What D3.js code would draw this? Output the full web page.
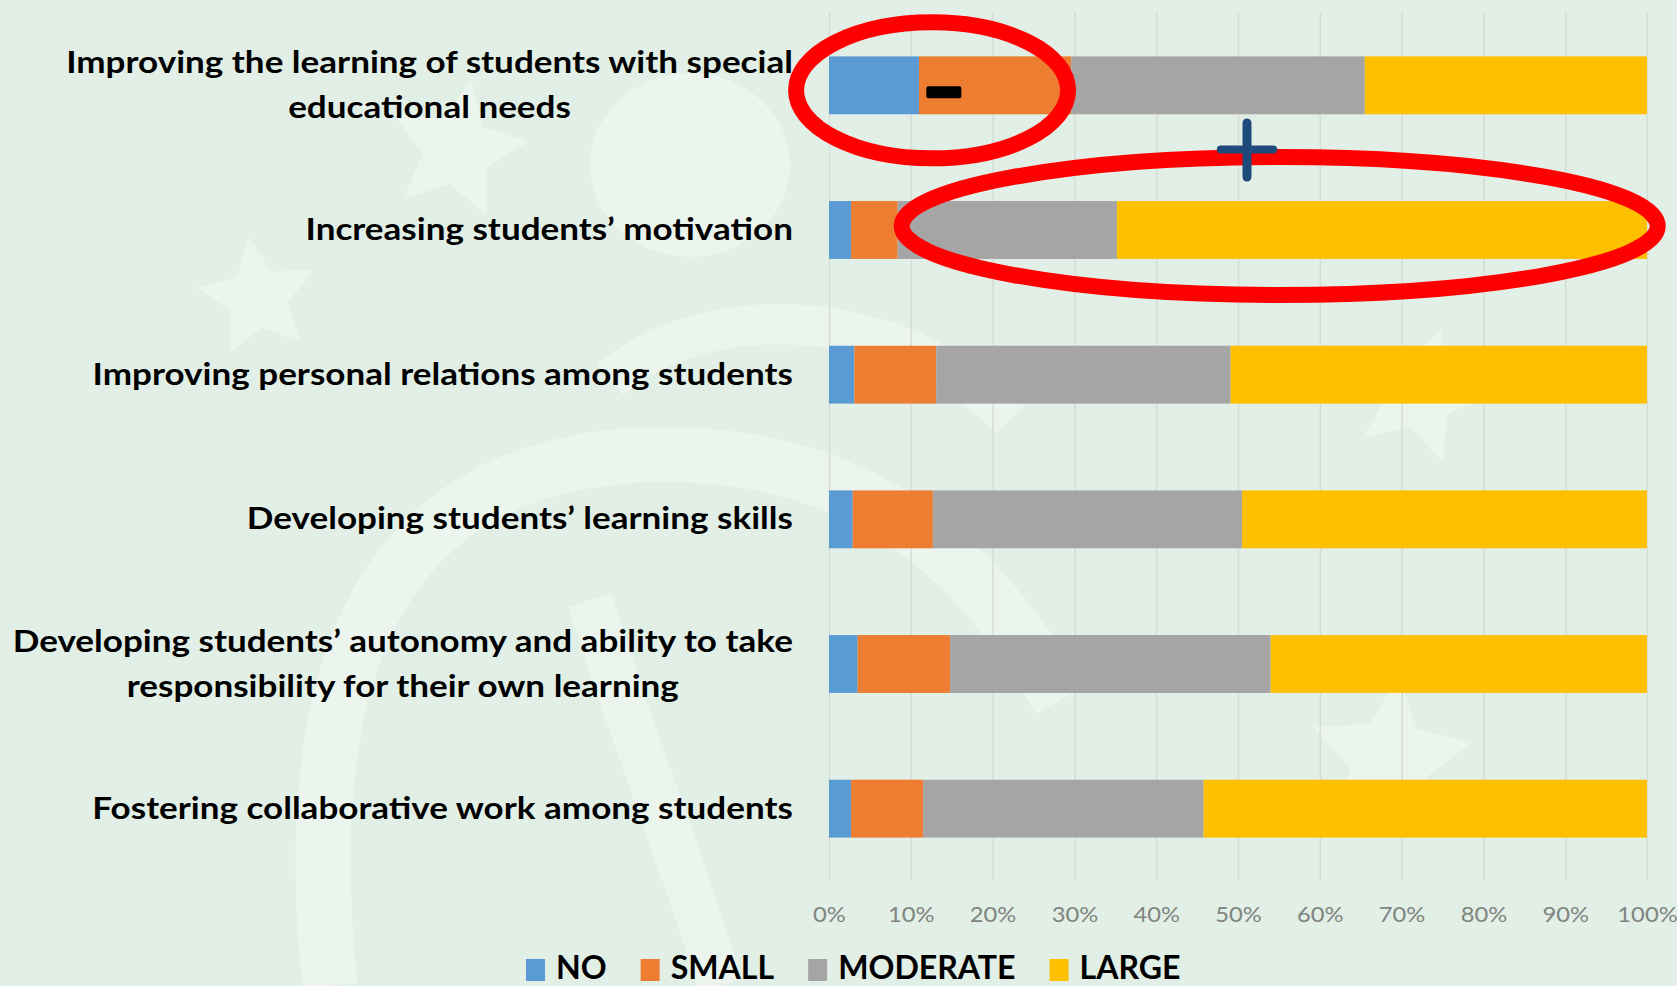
<!DOCTYPE html>
<html>
<head>
<meta charset="utf-8">
<script src="https://cdn.jsdelivr.net/npm/d3@7"></script>
<style>
  html, body { margin: 0; padding: 0; background: #e2efe6; overflow: hidden; }
  svg { display: block; }
</style>
</head>
<body>
<div id="chart"></div>
<script>
// data (percent of answers)
const categories = [
  "Improving the learning of students with special\neducational needs",
  "Increasing students’ motivation",
  "Improving personal relations among students",
  "Developing students’ learning skills",
  "Developing students’ autonomy and ability to take\nresponsibility for their own learning",
  "Fostering collaborative work among students"
];
const seriesNames = ["NO", "SMALL", "MODERATE", "LARGE"];
const noValues = [11.0, 2.7, 3.1, 2.9, 3.5, 2.7];
const smallValues = [18.6, 5.7, 10.0, 9.8, 11.3, 8.8];
const moderateValues = [35.9, 26.8, 36.0, 37.8, 39.2, 34.3];
const largeValues = [34.5, 64.8, 50.9, 49.5, 46.0, 54.2];
const tickValues = [0, 10, 20, 30, 40, 50, 60, 70, 80, 90, 100];

const colors = ["#5b9bd5", "#ed7d31", "#a5a5a5", "#ffc000"];

const W = 1677, H = 986;
const plotLeft = 829, plotRight = 1647, plotTop = 13, plotBottom = 881;
const labelRight = 793;

const svg = d3.select("#chart").append("svg")
  .attr("width", W)
  .attr("height", H);

// faint background decoration of the slide
const deco = svg.append("g").attr("fill", "#ecf4ee").attr("stroke", "none");
function star(cx, cy, r, rot) {
  const pts = [];
  for (let k = 0; k < 10; k++) {
    const a = rot + k * Math.PI / 5 - Math.PI / 2;
    const rr = k % 2 == 0 ? r : r * 0.48;
    pts.push([cx + rr * Math.cos(a), cy + rr * Math.sin(a)]);
  }
  return "M" + pts.join("L") + "Z";
}
deco.append("rect").attr("width", W).attr("height", H).attr("fill", "#e2efe6");
deco.append("ellipse").attr("cx", 690).attr("cy", 165).attr("rx", 100).attr("ry", 92);
deco.append("path").attr("d", star(457, 150, 72, 0.2));
deco.append("path").attr("d", star(258, 298, 62, -0.15));
deco.append("path").attr("d", star(1420, 395, 70, 0.3));
deco.append("path").attr("d", star(1390, 760, 85, 0.1));
deco.append("path")
  .attr("fill", "none")
  .attr("stroke", "#ecf4ee")
  .attr("stroke-width", 55)
  .attr("d", "M330,986 C300,700 360,470 640,455 C860,445 980,560 1060,700");
deco.append("path")
  .attr("fill", "none")
  .attr("stroke", "#ecf4ee")
  .attr("stroke-width", 45)
  .attr("d", "M590,600 C640,760 690,880 720,986");
deco.append("path")
  .attr("fill", "none")
  .attr("stroke", "#ecf4ee")
  .attr("stroke-width", 40)
  .attr("d", "M610,380 C700,300 900,300 1010,420");

const x = d3.scaleLinear().domain([0, 100]).range([plotLeft, plotRight]);
const y = d3.scaleBand()
  .domain(d3.range(categories.length))
  .range([plotTop, plotBottom])
  .paddingInner(0.6)
  .paddingOuter(0.3);

// gridlines + tick labels
const xAxis = d3.axisBottom(x)
  .tickValues(tickValues)
  .tickFormat(d => d + "%")
  .tickSize(-(plotBottom - plotTop))
  .tickPadding(27);

const axisG = svg.append("g")
  .attr("transform", "translate(0," + (plotBottom - 1) + ")")
  .call(xAxis);
axisG.select(".domain").remove();
axisG.selectAll(".tick line").attr("stroke", "#d6dcd8").attr("stroke-width", 1.5);
axisG.selectAll(".tick text")
  .attr("fill", "#80847f")
  .style("font-family", "Lato, sans-serif")
  .style("font-size", "21px");

// stacked bars
const rows = categories.map((c, i) => ({
  i: i,
  NO: noValues[i],
  SMALL: smallValues[i],
  MODERATE: moderateValues[i],
  LARGE: largeValues[i]
}));
const stacked = d3.stack().keys(seriesNames)(rows);

svg.append("g")
  .selectAll("g")
  .data(stacked)
  .enter()
  .append("g")
  .attr("fill", (d, k) => colors[k])
  .selectAll("rect")
  .data(d => d)
  .enter()
  .append("rect")
  .attr("x", d => x(d[0]))
  .attr("y", d => y(d.data.i))
  .attr("width", d => x(d[1]) - x(d[0]))
  .attr("height", y.bandwidth());

// category labels (slide font is narrow, so squeeze horizontally)
const labelFont = "Lato, 'Open Sans', sans-serif";
function textWidth(str, size) {
  const t = svg.append("text")
    .style("font-family", labelFont)
    .style("font-weight", "bold")
    .style("font-size", size + "px")
    .text(str);
  const w = t.node().getComputedTextLength();
  t.remove();
  return w;
}
const sx = 727 / textWidth("Improving the learning of students with special", 31);

const labels = svg.append("g")
  .style("font-family", labelFont)
  .style("font-weight", "bold")
  .style("font-size", "31px")
  .attr("fill", "#000");

categories.forEach((c, i) => {
  const lines = c.split("\n");
  const g = labels.append("g");
  const texts = lines.map(l => g.append("text").attr("text-anchor", "middle").text(l));
  const blockW = d3.max(texts, t => t.node().getComputedTextLength()) * sx;
  const cx = labelRight - blockW / 2;
  const cy = y(i) + y.bandwidth() / 2;
  texts.forEach((t, j) => {
    const base = cy + 10 + (j - (lines.length - 1) / 2) * 45;
    t.attr("transform", "translate(" + cx + "," + base + ") scale(" + sx + ",1)");
  });
});

axisG.selectAll(".tick text")
  .attr("transform", "scale(" + sx + ",1)");

// legend (sits right on the bottom edge of the slide)
const lsx = 177.5 / textWidth("MODERATE", 33);
const legend = svg.append("g")
  .style("font-family", labelFont)
  .style("font-weight", "bold")
  .style("font-size", "33px");
let lx = 526;
seriesNames.forEach((s, k) => {
  legend.append("rect")
    .attr("x", lx)
    .attr("y", 959)
    .attr("width", 19)
    .attr("height", 22)
    .attr("fill", colors[k]);
  const t = legend.append("text")
    .attr("transform", "translate(" + (lx + 30) + ",979) scale(" + lsx + ",1)")
    .attr("fill", "#000")
    .text(s);
  lx += 30 + t.node().getComputedTextLength() * lsx + 34;
});

// hand-drawn annotations on the slide
const ann = svg.append("g");
const c0 = y(0) + y.bandwidth() / 2;
const c1 = y(1) + y.bandwidth() / 2;
ann.append("ellipse")
  .attr("cx", x(12.6))
  .attr("cy", c0 + 5)
  .attr("rx", 136)
  .attr("ry", 68)
  .attr("fill", "none")
  .attr("stroke", "#ff0000")
  .attr("stroke-width", 16);
ann.append("ellipse")
  .attr("cx", x(55.1))
  .attr("cy", c1 - 4)
  .attr("rx", 378)
  .attr("ry", 69)
  .attr("fill", "none")
  .attr("stroke", "#ff0000")
  .attr("stroke-width", 16);
ann.append("rect")
  .attr("x", x(11.9))
  .attr("y", c0 + 1)
  .attr("width", 35)
  .attr("height", 12)
  .attr("rx", 2)
  .attr("fill", "#000");
ann.append("line")
  .attr("x1", x(47.9)).attr("x2", x(54.3))
  .attr("y1", 149.5).attr("y2", 149.5)
  .attr("stroke", "#1f4a7c").attr("stroke-width", 8).attr("stroke-linecap", "round");
ann.append("line")
  .attr("x1", x(51.1)).attr("x2", x(51.1))
  .attr("y1", 123).attr("y2", 177)
  .attr("stroke", "#1f4a7c").attr("stroke-width", 9).attr("stroke-linecap", "round");
</script>
</body>
</html>
